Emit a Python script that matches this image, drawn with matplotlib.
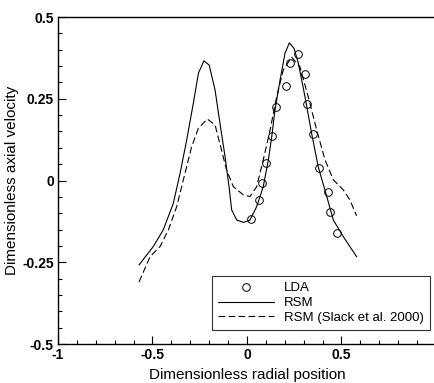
import matplotlib.pyplot as plt
from matplotlib.ticker import MultipleLocator

# LDA measurements
lda_x = [0.02, 0.062, 0.08, 0.10, 0.132, 0.155, 0.206, 0.227, 0.27, 0.305,
         0.32, 0.348, 0.382, 0.43, 0.44, 0.478]
lda_y = [-0.118, -0.06, -0.008, 0.053, 0.137, 0.224, 0.289, 0.36, 0.387, 0.326,
         0.235, 0.142, 0.038, -0.035, -0.097, -0.16]

# RSM (present)
rsm_x = [-0.571, -0.496, -0.443, -0.39, -0.354, -0.319, -0.284, -0.257, -0.228,
         -0.2, -0.169, -0.143, -0.116, -0.095, -0.081, -0.054, -0.019, 0.016,
         0.051, 0.086, 0.113, 0.131, 0.148, 0.175, 0.201, 0.224, 0.249, 0.272,
         0.307, 0.342, 0.377, 0.422, 0.457, 0.51, 0.58]
rsm_y = [-0.258, -0.202, -0.151, -0.07, 0.022, 0.124, 0.236, 0.328, 0.366,
         0.353, 0.277, 0.175, 0.073, -0.019, -0.09, -0.121, -0.128, -0.121,
         -0.08, -0.019, 0.063, 0.134, 0.216, 0.307, 0.389, 0.421, 0.404, 0.358,
         0.256, 0.144, 0.042, -0.049, -0.121, -0.172, -0.233]

# RSM (Slack et al. 2000)
slack_x = [-0.571, -0.513, -0.46, -0.416, -0.372, -0.328, -0.293, -0.257, -0.21,
           -0.169, -0.139, -0.108, -0.072, -0.019, 0.016, 0.051, 0.086, 0.122,
           0.157, 0.192, 0.236, 0.28, 0.324, 0.369, 0.413, 0.457, 0.51, 0.545,
           0.58]
slack_y = [-0.31, -0.233, -0.202, -0.151, -0.08, 0.022, 0.103, 0.16, 0.188,
           0.17, 0.103, 0.032, -0.019, -0.044, -0.049, -0.019, 0.063, 0.154,
           0.256, 0.338, 0.377, 0.348, 0.256, 0.154, 0.063, 0.002, -0.029, -0.06,
           -0.108]

plt.rcParams['font.family'] = ['Liberation Sans', 'DejaVu Sans']

fig = plt.figure(figsize=(4.34, 3.83), dpi=100)
ax = fig.add_axes([0.1336, 0.1018, 0.871, 0.8538])

ax.plot(lda_x, lda_y, 'o', mfc='none', mec='black', ms=5.5, mew=0.7, label='LDA')
ax.plot(rsm_x, rsm_y, '-', color='black', lw=0.8, label='RSM')
ax.plot(slack_x, slack_y, '--', color='black', lw=0.8, dashes=(6, 3),
        label='RSM (Slack et al. 2000)')

ax.set_xlim(-1, 1)
ax.set_ylim(-0.5, 0.5)
ax.xaxis.set_minor_locator(MultipleLocator(0.1))
ax.yaxis.set_minor_locator(MultipleLocator(0.05))
ax.set_xticks([-1, -0.5, 0, 0.5])
ax.set_xticklabels(['-1', '-0.5', '0', '0.5'])
ax.set_yticks([-0.5, -0.25, 0, 0.25, 0.5])
ax.set_yticklabels(['-0.5', '-0.25', '0', '0.25', '0.5'])
ax.tick_params(which='both', direction='in', top=False, right=False,
               labelsize=10, pad=3)
ax.tick_params(which='major', length=6, width=0.8)
ax.tick_params(which='minor', length=3, width=0.8)
for lbl in ax.get_xticklabels() + ax.get_yticklabels():
    lbl.set_fontweight('bold')
for s in ax.spines.values():
    s.set_linewidth(1.0)

ax.set_xlabel('Dimensionless radial position', fontsize=11, labelpad=4)
ax.set_ylabel('Dimensionless axial velocity', fontsize=11, labelpad=2)

leg = ax.legend(loc='lower right', bbox_to_anchor=(0.984, 0.043), fontsize=9.5,
                frameon=True, fancybox=False, edgecolor='black',
                handlelength=4.3, borderpad=0.45, labelspacing=0.2,
                handletextpad=0.75, borderaxespad=0)
leg.get_frame().set_linewidth(0.8)

fig.savefig('out.png', dpi=100)
